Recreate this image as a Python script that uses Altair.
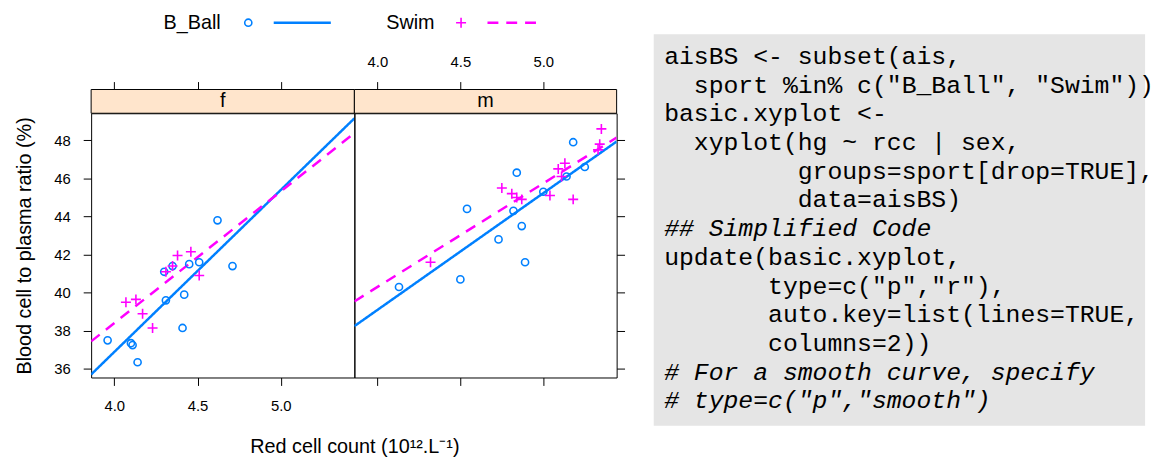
import altair as alt
import pandas as pd

# ---------------- data ----------------
sports = ["B_Ball", "Swim"]
sexes = ["f", "m"]

f_bb_rcc = [3.96, 4.10, 4.11, 4.14, 4.30, 4.31, 4.35, 4.41, 4.42, 4.45, 4.51, 4.62, 4.71]
f_bb_hg = [37.5, 37.35, 37.25, 36.35, 41.1, 39.6, 41.4, 38.15, 39.9, 41.5, 41.6, 43.8, 41.4]

f_sw_rcc = [4.07, 4.13, 4.17, 4.23, 4.31, 4.35, 4.38, 4.46, 4.51]
f_sw_hg = [39.5, 39.65, 38.9, 38.15, 41.1, 41.4, 41.95, 42.15, 40.9]

m_bb_rcc = [4.13, 4.50, 4.54, 4.73, 4.82, 4.84, 4.87, 4.89, 5.00, 5.14, 5.18, 5.25]
m_bb_hg = [40.3, 40.7, 44.4, 42.8, 44.3, 46.3, 43.5, 41.6, 45.3, 46.1, 47.9, 46.6]

m_sw_rcc = [4.32, 4.75, 4.81, 4.84, 4.87, 5.04, 5.09, 5.11, 5.13, 5.18, 5.33, 5.34, 5.35]
m_sw_hg = [41.6, 45.5, 45.2, 45.0, 44.9, 45.1, 46.5, 46.1, 46.8, 44.9, 47.5, 47.8, 48.6]

x_ticks = [4.0, 4.5, 5.0]
y_ticks = [36, 38, 40, 42, 44, 46, 48]

x_title = "Red cell count (10\u00b9\u00b2.L\u207b\u00b9)"
y_title = "Blood cell to plasma ratio (%)"

code_lines = [
    'aisBS <- subset(ais,',
    '  sport %in% c("B_Ball", "Swim"))',
    'basic.xyplot <-',
    '  xyplot(hg ~ rcc | sex,',
    '         groups=sport[drop=TRUE],',
    '         data=aisBS)',
    '## Simplified Code',
    'update(basic.xyplot,',
    '       type=c("p","r"),',
    '       auto.key=list(lines=TRUE,',
    '       columns=2))',
    '# For a smooth curve, specify',
    '# type=c("p","smooth")',
]

# ---------------- build tables ----------------
rows = []
for sex, sport, xs_, ys_ in [
    ("f", "B_Ball", f_bb_rcc, f_bb_hg),
    ("f", "Swim", f_sw_rcc, f_sw_hg),
    ("m", "B_Ball", m_bb_rcc, m_bb_hg),
    ("m", "Swim", m_sw_rcc, m_sw_hg),
]:
    for a, b in zip(xs_, ys_):
        rows.append({"sex": sex, "sport": sport, "rcc": a, "hg": b})
df = pd.DataFrame(rows)

# ---------------- style ----------------
SANS = "Liberation Sans"
MONO = "Liberation Mono"
BLUE = "#0080ff"
MAGENTA = "#ff00ff"
CROSS = "M-1.4,0L1.4,0M0,-1.4L0,1.4"
PT_SIZE = 52
XDOM = [3.861, 5.442]
YDOM = [35.55, 49.42]
W = {"f": 266, "m": 265}
H = 267
STRIP = 24
CODE_W = 534
LEG_Y = -91.5


def panel(sex):
    d = df[df["sex"] == sex]
    first = sex == "f"
    xs = alt.Scale(domain=XDOM, nice=False, zero=False)
    ys = alt.Scale(domain=YDOM, nice=False, zero=False)
    color = alt.Color("sport:N", scale=alt.Scale(domain=sports, range=[BLUE, MAGENTA]), legend=None)
    shape = alt.Shape("sport:N", scale=alt.Scale(domain=sports, range=["circle", CROSS]), legend=None)
    dash = alt.StrokeDash("sport:N", scale=alt.Scale(domain=sports, range=[[1, 0], [11, 8]]), legend=None)

    if first:
        bottom_axis = alt.Axis(orient="bottom", values=x_ticks, format=".1f", labels=True,
                               title=x_title, titleX=W["f"], titlePadding=24, labelPadding=13)
        y_axis = alt.Axis(orient="left", values=y_ticks, labels=True, title=y_title,
                          titlePadding=20, labelPadding=13)
        top_axis = alt.Axis(orient="top", values=x_ticks, labels=False, title=None, offset=STRIP)
    else:
        bottom_axis = alt.Axis(orient="bottom", values=x_ticks, labels=False, title=None)
        y_axis = alt.Axis(orient="right", values=y_ticks, labels=False, title=None)
        top_axis = alt.Axis(orient="top", values=x_ticks, format=".1f", labels=True, title=None,
                            offset=STRIP, labelPadding=12)

    strip_df = pd.DataFrame({"sex": [sex]})
    strip_rect = alt.Chart(strip_df).mark_rect(fill="#ffe5cc", stroke="black", strokeWidth=1).encode(
        x=alt.value(0), x2=alt.value(W[sex]), y=alt.value(-STRIP), y2=alt.value(0))
    strip_text = alt.Chart(strip_df).mark_text(fontSize=20, font=SANS, baseline="middle",
                                               align="center", color="black").encode(
        x=alt.value(W[sex] / 2), y=alt.value(-STRIP / 2), text="sex:N")

    lines = alt.Chart(d).transform_regression(
        "rcc", "hg", groupby=["sport"], extent=XDOM
    ).mark_line(clip=True, strokeWidth=2.5).encode(
        x=alt.X("rcc:Q", scale=xs, axis=top_axis),
        y=alt.Y("hg:Q", scale=ys, axis=y_axis),
        color=color, strokeDash=dash)

    pts = alt.Chart(d).mark_point(filled=False, size=PT_SIZE, strokeWidth=1.6, opacity=1).encode(
        x=alt.X("rcc:Q", scale=xs, axis=bottom_axis),
        y=alt.Y("hg:Q", scale=ys, axis=y_axis),
        color=color, shape=shape)

    layers = [strip_rect, strip_text, lines, pts]

    if first:
        l0 = pd.DataFrame({"sport": [sports[0]]})
        l1 = pd.DataFrame({"sport": [sports[1]]})
        layers += [
            alt.Chart(l0).mark_text(fontSize=20, font=SANS, align="left", baseline="middle",
                                    color="black").encode(
                x=alt.value(73.2), y=alt.value(LEG_Y), text="sport:N"),
            alt.Chart(l0).mark_point(shape="circle", size=PT_SIZE, filled=False, strokeWidth=1.6,
                                     color=BLUE, opacity=1).encode(
                x=alt.value(158.8), y=alt.value(LEG_Y)),
            alt.Chart(l0).mark_rule(color=BLUE, strokeWidth=2.5).encode(
                x=alt.value(184.5), x2=alt.value(242.2), y=alt.value(LEG_Y)),
            alt.Chart(l1).mark_text(fontSize=20, font=SANS, align="left", baseline="middle",
                                    color="black").encode(
                x=alt.value(298.2), y=alt.value(LEG_Y), text="sport:N"),
            alt.Chart(l1).mark_point(shape=CROSS, size=PT_SIZE, filled=False, strokeWidth=1.6,
                                     color=MAGENTA, opacity=1).encode(
                x=alt.value(373.8), y=alt.value(LEG_Y)),
            alt.Chart(l1).mark_rule(color=MAGENTA, strokeWidth=2.5, strokeDash=[11, 8]).encode(
                x=alt.value(400.5), x2=alt.value(457.2), y=alt.value(LEG_Y)),
        ]

    return alt.layer(*layers).resolve_axis(x="independent").properties(width=W[sex], height=H)


# ---------------- code box ----------------
code_df = pd.DataFrame({"i": list(range(len(code_lines))), "line": code_lines})
code_ys = alt.Scale(domain=[0, 12], range=[-49.8, 298.2], nice=False, zero=False)
code_xs = alt.Scale(domain=[0, 1], range=[48, 63], nice=False, zero=False)

code_base = alt.Chart(code_df).transform_calculate(
    indent="length(datum.line) - length(trim(datum.line))",
    txt="trim(datum.line)",
)

code_bg = alt.Chart(pd.DataFrame({"k": [0]})).mark_rect(fill="#e5e5e5").encode(
    x=alt.value(37.5), x2=alt.value(CODE_W), y=alt.value(-79.8), y2=alt.value(315.8))
code_txt = code_base.transform_filter("indexof(datum.txt, '#') != 0").mark_text(
    font=MONO, fontSize=25, align="left", baseline="alphabetic", color="black").encode(
    x=alt.X("indent:Q", scale=code_xs, axis=None),
    y=alt.Y("i:Q", scale=code_ys, axis=None), text="txt:N")
code_cmt = code_base.transform_filter("indexof(datum.txt, '#') == 0").mark_text(
    font=MONO, fontSize=25, fontStyle="italic", align="left", baseline="alphabetic",
    color="black").encode(
    x=alt.X("indent:Q", scale=code_xs, axis=None),
    y=alt.Y("i:Q", scale=code_ys, axis=None), text="txt:N")

code = alt.layer(code_bg, code_txt, code_cmt).properties(
    width=CODE_W, height=H, view=alt.ViewBackground(stroke="transparent"))

chart = alt.hconcat(panel("f"), panel("m"), code, spacing=0, bounds="flush").properties(
    padding={"left": 5, "top": 2, "right": 0, "bottom": 0}
).configure(font=SANS).configure_view(
    stroke="black", strokeWidth=1
).configure_axis(
    tickColor="black", tickSize=8, tickWidth=1, labelColor="black", labelFont=SANS,
    labelFontSize=15, titleFont=SANS, titleFontSize=20, titleFontWeight="normal",
    titleColor="black", domain=False, grid=False, labelFlush=False, labelPadding=13
)

chart.save("out.html", embed_options={"renderer": "svg", "actions": False})
